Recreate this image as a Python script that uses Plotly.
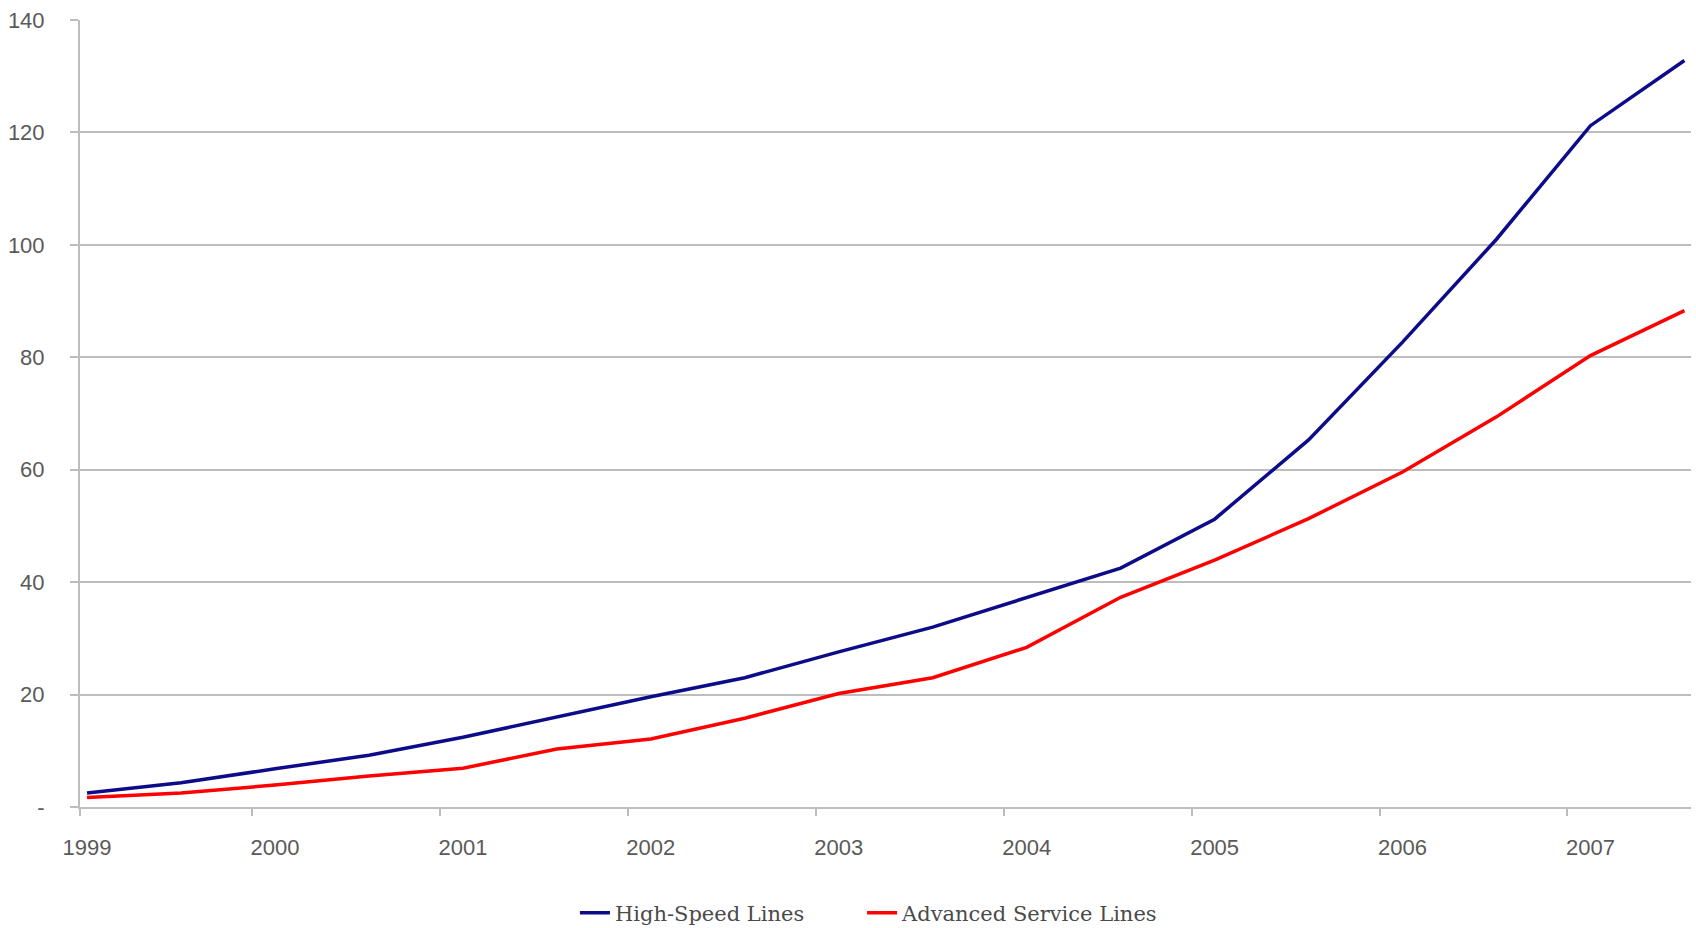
import plotly.graph_objects as go

# Half-year reporting periods (millions of lines)
periods = ["Dec 1999", "Jun 2000", "Dec 2000", "Jun 2001", "Dec 2001", "Jun 2002",
           "Dec 2002", "Jun 2003", "Dec 2003", "Jun 2004", "Dec 2004", "Jun 2005",
           "Dec 2005", "Jun 2006", "Dec 2006", "Jun 2007", "Dec 2007", "Jun 2008"]
high_speed = [2.5, 4.3, 6.8, 9.2, 12.4, 16.0, 19.6, 23.0, 27.6, 32.0, 37.3, 42.5,
              51.2, 65.3, 82.7, 101.0, 121.2, 132.8]
advanced = [1.7, 2.5, 3.9, 5.5, 6.9, 10.3, 12.1, 15.8, 20.2, 23.0, 28.4, 37.3,
            43.9, 51.3, 59.6, 69.4, 80.3, 88.3]

year_labels = ["1999", "2000", "2001", "2002", "2003", "2004", "2005", "2006", "2007"]
y_ticks = [0, 20, 40, 60, 80, 100, 120, 140]
y_labels = ["-", "20", "40", "60", "80", "100", "120", "140"]

x_pos = list(range(len(periods)))
label_pos = [x_pos[periods.index("Dec " + y)] for y in year_labels]
x_min, x_max = -0.075, len(periods) - 1 + 0.07
tick_marks = [x_min] + [p - 0.245 for p in label_pos[1:]]

fig = go.Figure()
fig.add_trace(go.Scatter(x=x_pos, y=high_speed, mode="lines", name="High-Speed Lines",
                         text=periods, legend="legend",
                         line=dict(color="#0c0c8a", width=3.5)))
fig.add_trace(go.Scatter(x=x_pos, y=advanced, mode="lines", name="Advanced Service Lines",
                         text=periods, legend="legend2",
                         line=dict(color="#ff0000", width=3.5)))

axis_grey = "#bdbdbd"
tick_font = dict(family="Liberation Sans, Arial, sans-serif", size=22, color="#5a5a5a")
legend_style = dict(orientation="h", xref="container", yref="container",
                    y=0.016, xanchor="left", yanchor="middle",
                    font=dict(family="DejaVu Serif, serif", size=21, color="#4a4a4a"),
                    bgcolor="rgba(0,0,0,0)")

fig.update_layout(
    width=1696, height=928,
    margin=dict(l=80, r=5, t=20, b=121),
    paper_bgcolor="white", plot_bgcolor="white",
    showlegend=True,
    legend=dict(x=0.339, **legend_style),
    legend2=dict(x=0.5083, **legend_style),
    xaxis=dict(range=[x_min, x_max], showgrid=False, zeroline=False,
               showline=True, linecolor=axis_grey, linewidth=2,
               tickmode="array", tickvals=label_pos, ticktext=year_labels,
               ticks="", ticklabelstandoff=20, tickfont=tick_font,
               minor=dict(tickmode="array", tickvals=tick_marks, ticks="outside",
                          ticklen=7, tickwidth=2, tickcolor=axis_grey, showgrid=False)),
    yaxis=dict(range=[0, 140], showgrid=True, gridcolor=axis_grey, gridwidth=2,
               zeroline=False, showline=True, linecolor=axis_grey, linewidth=2,
               tickmode="array", tickvals=y_ticks, ticktext=y_labels,
               ticks="outside", ticklen=8, tickwidth=2, tickcolor=axis_grey,
               ticklabelstandoff=21, tickfont=tick_font),
)

fig.write_html("out.html")
